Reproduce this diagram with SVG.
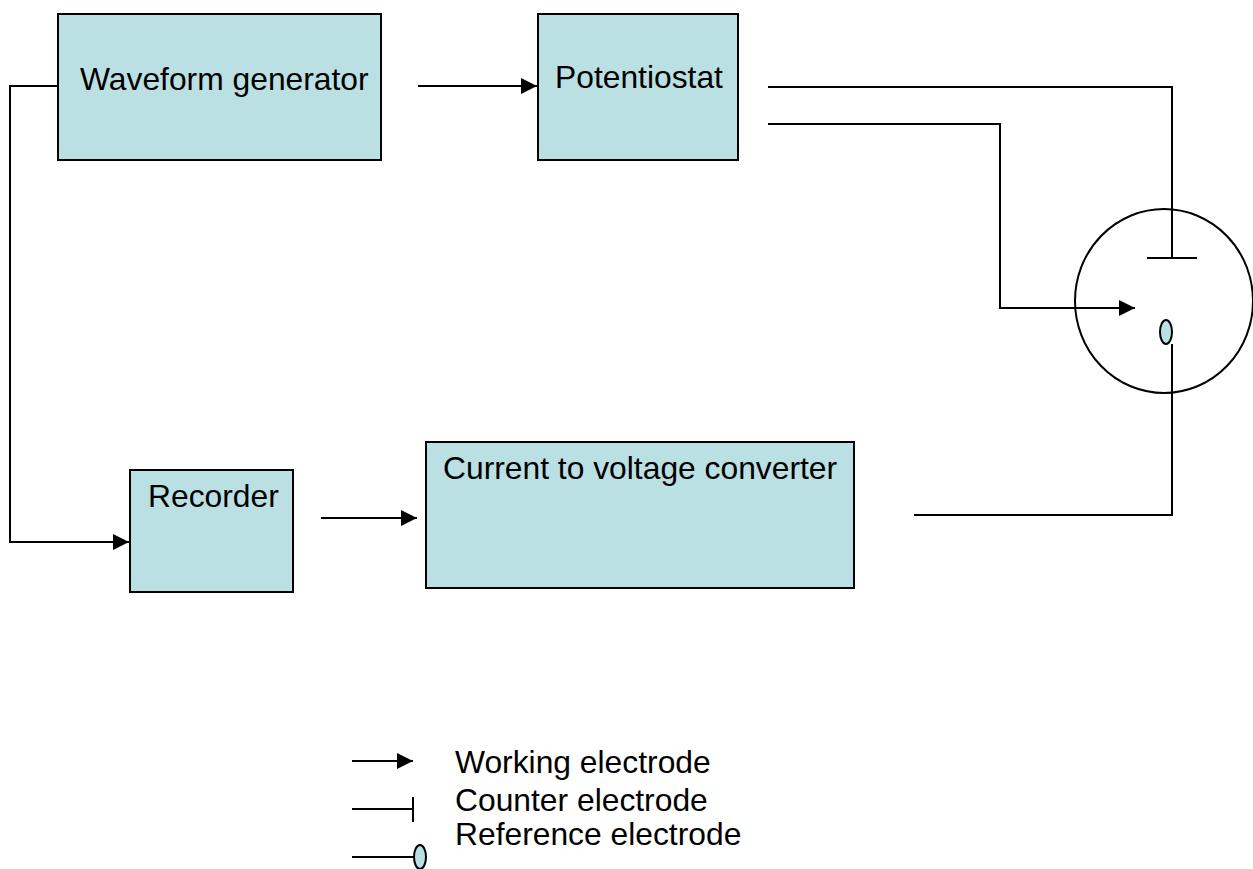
<svg xmlns="http://www.w3.org/2000/svg" width="1253" height="869" viewBox="0 0 1253 869">
<defs>
<style>
.box{fill:#BBE0E3;stroke:#000;stroke-width:2}
.lbl{font-family:"Liberation Sans",Arial,sans-serif;font-size:31.8px;fill:#000}
.ln{fill:none;stroke:#000;stroke-width:2}
.ref{fill:#BBE0E3;stroke:#000;stroke-width:2}
</style>
<marker id="arr" viewBox="0 0 16 16" refX="16" refY="8" markerWidth="16" markerHeight="16" markerUnits="userSpaceOnUse" orient="auto">
<path d="M0,0 L16,8 L0,16 Z" fill="#000"/>
</marker>
</defs>
<rect width="1253" height="869" fill="#fff"/>
<g id="connectors">
<polyline class="ln" points="58,86 10,86 10,542 129,542" marker-end="url(#arr)"/>
<line class="ln" x1="418" y1="86" x2="537" y2="86" marker-end="url(#arr)"/>
<line class="ln" x1="321" y1="518" x2="417" y2="518" marker-end="url(#arr)"/>
<polyline class="ln" points="768,87 1172,87 1172,258"/>
<line class="ln" x1="1147" y1="258" x2="1197" y2="258"/>
<polyline class="ln" points="768,124 1000,124 1000,308 1135,308" marker-end="url(#arr)"/>
<polyline class="ln" points="1172,344 1172,515 914,515"/>
</g>
<g id="cell">
<ellipse cx="1164" cy="301" rx="89" ry="92" fill="none" stroke="#000" stroke-width="2"/>
<ellipse class="ref" cx="1166" cy="332" rx="6" ry="12"/>
</g>
<g id="waveform-generator">
<rect class="box" x="58" y="14" width="323" height="146"/>
<text class="lbl" x="80" y="90">Waveform generator</text>
</g>
<g id="potentiostat">
<rect class="box" x="538" y="14" width="200" height="146"/>
<text class="lbl" x="555" y="88">Potentiostat</text>
</g>
<g id="recorder">
<rect class="box" x="130" y="470" width="163" height="122"/>
<text class="lbl" x="148" y="507">Recorder</text>
</g>
<g id="converter">
<rect class="box" x="426" y="442" width="428" height="146"/>
<text class="lbl" x="443" y="479">Current to voltage converter</text>
</g>
<g id="legend">
<line class="ln" x1="352" y1="761" x2="413" y2="761" marker-end="url(#arr)"/>
<text class="lbl" x="455" y="773">Working electrode</text>
<line class="ln" x1="352" y1="809" x2="413" y2="809"/>
<line class="ln" x1="413" y1="797" x2="413" y2="822"/>
<text class="lbl" x="455" y="811">Counter electrode</text>
<line class="ln" x1="352" y1="857" x2="414" y2="857"/>
<ellipse class="ref" cx="420" cy="857" rx="6" ry="12"/>
<text class="lbl" x="455" y="845">Reference electrode</text>
</g>
</svg>
